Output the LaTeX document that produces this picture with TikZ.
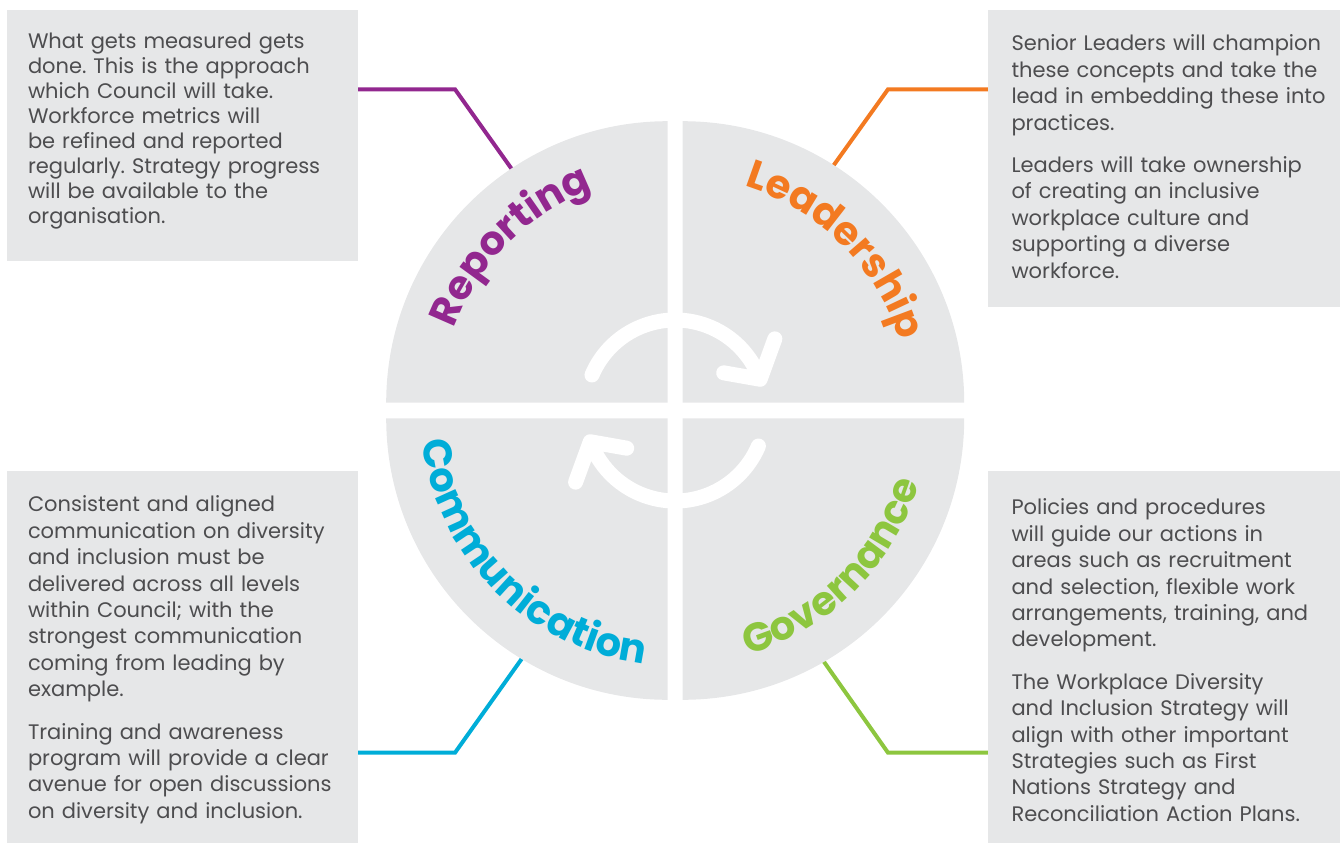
\documentclass[tikz,border=0pt]{standalone}
\usepackage{fontspec}
\setmainfont{Poppins}
\usetikzlibrary{decorations.text}

\definecolor{reportcol}{HTML}{92278F}
\definecolor{leadcol}{HTML}{F37A21}
\definecolor{commcol}{HTML}{00ADD8}
\definecolor{govcol}{HTML}{8DC63F}
\definecolor{panelgray}{HTML}{E6E7E8}
\definecolor{inkgray}{HTML}{4D4D4F}

\newcommand{\ringfont}{\fontsize{40}{40}\selectfont\bfseries}

\begin{document}
\frenchspacing
\begin{tikzpicture}[
    x=1pt, y=1pt,            % 1 单位 = 1pt
    panel/.style={fill=panelgray, inner sep=0pt},
    blurb/.style={anchor=north west, inner sep=0pt, text width=335pt,
        align=left, text=inkgray, font=\fontsize{21}{26.4}\selectfont},
    connector/.style={draw=#1, line width=4pt},
    quarter/.style={fill=panelgray},
    cyclearrow/.style={draw=white, line width=15pt, line cap=round, line join=round},
    ringlabel/.style 2 args={decorate, decoration={text along path,
        text align=center, text={|\ringfont\color{#1}|#2}}}
]

    \useasboundingbox (0,0) rectangle (1340,-843);

    % --- 1. 四个文字框 (Panels) ---
    \node[panel, minimum width=351pt, minimum height=251pt] (reportbox) at (182.5,-135.5) {};
    \node[panel, minimum width=352pt, minimum height=297pt] (leadbox) at (1164,-158.5) {};
    \node[panel, minimum width=351pt, minimum height=372pt] (commbox) at (182.5,-657) {};
    \node[panel, minimum width=352pt, minimum height=372pt] (govbox) at (1164,-657) {};

    \node[blurb, font=\fontsize{21}{25}\selectfont] (reporttext)
        at ([shift={(21,-23)}]reportbox.north west) {%
        What gets measured gets\\
        done. This is the approach\\
        which Council will take.\\
        Workforce metrics will\\
        be refined and reported\\
        regularly. Strategy progress\\
        will be available to the\\
        organisation.};

    \node[blurb] (leadtext) at ([shift={(23.5,-25)}]leadbox.north west) {%
        Senior Leaders will champion\\
        these concepts and take the\\
        lead in embedding these into\\
        practices.\\[16pt]
        Leaders will take ownership\\
        of creating an inclusive\\
        workplace culture and\\
        supporting a diverse\\
        workforce.};

    \node[blurb] (commtext) at ([shift={(21,-25)}]commbox.north west) {%
        Consistent and aligned\\
        communication on diversity\\
        and inclusion must be\\
        delivered across all levels\\
        within Council; with the\\
        strongest communication\\
        coming from leading by\\
        example.\\[16pt]
        Training and awareness\\
        program will provide a clear\\
        avenue for open discussions\\
        on diversity and inclusion.};

    \node[blurb] (govtext) at ([shift={(23.5,-28)}]govbox.north west) {%
        Policies and procedures\\
        will guide our actions in\\
        areas such as recruitment\\
        and selection, flexible work\\
        arrangements, training, and\\
        development.\\[16pt]
        The Workplace Diversity\\
        and Inclusion Strategy will\\
        align with other important\\
        Strategies such as First\\
        Nations Strategy and\\
        Reconciliation Action Plans.};

    % --- 2. 折线连接 (Connectors) ---
    \coordinate (reportbend) at (455,-89.3);
    \coordinate (reportend) at (513.5,-171.5);
    \coordinate (leadbend) at (888,-89.3);
    \coordinate (leadend) at (831,-169);
    \coordinate (commbend) at (455,-752.7);
    \coordinate (commend) at (523,-657);
    \coordinate (govbend) at (888,-752.7);
    \coordinate (govend) at (822,-659);

    \draw[connector=reportcol] (reportbox.east |- reportbend) -- (reportbend) -- (reportend);
    \draw[connector=leadcol] (leadbox.west |- leadbend) -- (leadbend) -- (leadend);
    \draw[connector=commcol] (commbox.east |- commbend) -- (commbend) -- (commend);
    \draw[connector=govcol] (govbox.west |- govbend) -- (govbend) -- (govend);

    % --- 3. 四分之一圆 (Quarters) ---
    \coordinate (hub) at (675.2,-410.5);
    \coordinate (qtl) at (667.7,-402.7);
    \coordinate (qtr) at (682.7,-402.7);
    \coordinate (qbl) at (667.7,-418.3);
    \coordinate (qbr) at (682.7,-418.3);

    \fill[quarter] (qtl) -- ++(-281.5,0) arc[start angle=180, end angle=90, radius=281.5] -- cycle;
    \fill[quarter] (qtr) -- ++(0,281.5) arc[start angle=90, end angle=0, radius=281.5] -- cycle;
    \fill[quarter] (qbl) -- ++(-281.5,0) arc[start angle=180, end angle=270, radius=281.5] -- cycle;
    \fill[quarter] (qbr) -- ++(281.5,0) arc[start angle=0, end angle=-90, radius=281.5] -- cycle;

    % --- 4. 弧形标题 (Labels) ---
    \path[ringlabel={reportcol}{Reporting}]
        ([shift={(180:236)}]hub) arc[start angle=180, end angle=90, radius=236];
    \path[ringlabel={leadcol}{Leadership}]
        ([shift={(90:235)}]hub) arc[start angle=90, end angle=0, radius=235];
    \path[ringlabel={commcol}{Communication}]
        ([shift={(180:255)}]hub) arc[start angle=180, end angle=270, radius=255];
    \path[ringlabel={govcol}{Governance}]
        ([shift={(270:255)}]hub) arc[start angle=270, end angle=360, radius=255];

    % --- 5. 中间循环箭头 (Cycle arrows) ---
    \draw[cyclearrow] ([shift={(156.9:90.5)}]hub)
        arc[start angle=156.9, end angle=20.2, radius=90.5] coordinate (tipA)
        ++(170:37) -- (tipA) -- ++(70:43);
    \draw[cyclearrow] ([shift={(-23.1:90.5)}]hub)
        arc[start angle=-23.1, end angle=-159.8, radius=90.5] coordinate (tipB)
        ++(-10:37) -- (tipB) -- ++(-110:43);

\end{tikzpicture}
\end{document}
